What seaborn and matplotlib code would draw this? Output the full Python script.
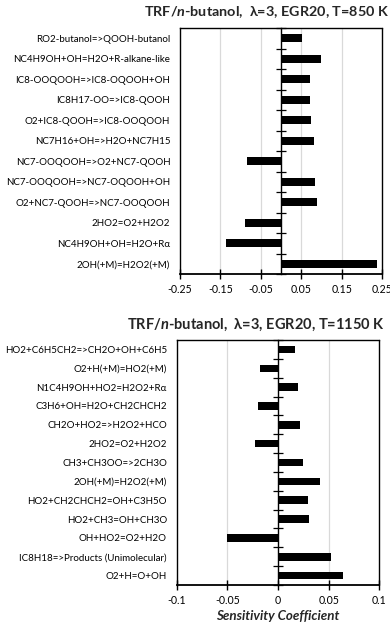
import matplotlib
matplotlib.use("Agg")
import matplotlib.pyplot as plt
import seaborn as sns
import numpy as np
from matplotlib.ticker import FixedLocator

# ---------------- data ----------------
top_labels = [
    "RO2-butanol=>QOOH-butanol",
    "NC4H9OH+OH=H2O+R-alkane-like",
    "IC8-OOQOOH=>IC8-OQOOH+OH",
    "IC8H17-OO=>IC8-QOOH",
    "O2+IC8-QOOH=>IC8-OOQOOH",
    "NC7H16+OH=>H2O+NC7H15",
    "NC7-OOQOOH=>O2+NC7-QOOH",
    "NC7-OOQOOH=>NC7-OQOOH+OH",
    "O2+NC7-QOOH=>NC7-OOQOOH",
    "2HO2=O2+H2O2",
    "NC4H9OH+OH=H2O+R\u03b1",
    "2OH(+M)=H2O2(+M)",
]
top_values = [0.053, 0.098, 0.071, 0.073, 0.074, 0.082, -0.085, 0.084, 0.088, -0.089, -0.136, 0.237]
top_ticks = [-0.25, -0.15, -0.05, 0.05, 0.15, 0.25]
top_ticklabels = ["-0.25", "-0.15", "-0.05", "0.05", "0.15", "0.25"]
top_title = "TRF/$\\mathbfit{n}$-butanol,  \u03bb=3, EGR20, T=850 K"

bot_labels = [
    "HO2+C6H5CH2=>CH2O+OH+C6H5",
    "O2+H(+M)=HO2(+M)",
    "N1C4H9OH+HO2=H2O2+R\u03b1",
    "C3H6+OH=H2O+CH2CHCH2",
    "CH2O+HO2=>H2O2+HCO",
    "2HO2=O2+H2O2",
    "CH3+CH3OO=>2CH3O",
    "2OH(+M)=H2O2(+M)",
    "HO2+CH2CHCH2=OH+C3H5O",
    "HO2+CH3=OH+CH3O",
    "OH+HO2=O2+H2O",
    "IC8H18=>Products (Unimolecular)",
    "O2+H=O+OH",
]
bot_values = [0.017, -0.018, 0.020, -0.020, 0.022, -0.023, 0.025, 0.041, 0.030, 0.031, -0.050, 0.052, 0.064]
bot_ticks = [-0.1, -0.05, 0, 0.05, 0.1]
bot_ticklabels = ["-0.1", "-0.05", "0", "0.05", "0.1"]
bot_title = "TRF/$\\mathbfit{n}$-butanol,  \u03bb=3, EGR20, T=1150 K"
xlabel = "Sensitivity Coefficient"

# ---------------- style ----------------
sns.set_theme(style="white")
plt.rcParams["font.family"] = ["Lato", "DejaVu Sans"]
plt.rcParams["axes.unicode_minus"] = False
plt.rcParams["mathtext.fontset"] = "custom"
plt.rcParams["mathtext.bfit"] = "Lato:italic:bold"
plt.rcParams["mathtext.rm"] = "Lato"
plt.rcParams["mathtext.bf"] = "Lato:bold"

fig = plt.figure(figsize=(3.9, 6.32), dpi=100)
W, H = 390, 632

def add_axes(l, t, r, b):
    return fig.add_axes([l / W, 1 - b / H, (r - l) / W, (b - t) / H])

ax1 = add_axes(180, 28, 382, 274)
ax2 = add_axes(176.7, 340, 379.3, 585)


def draw(ax, labels, values, xlim, ticks, ticklabels, gridx):
    sns.barplot(x=values, y=labels, orient="h", color="black", saturation=1,
                width=0.4, ax=ax, edgecolor="black", linewidth=0)
    ax.set_xlim(*xlim)
    n = len(labels)
    ax.set_ylim(n - 0.5, -0.5)
    ax.set_xticks(ticks)
    ax.set_xticklabels(ticklabels, fontsize=7.6)
    for g in gridx:
        ax.axvline(g, color="#d9d9d9", lw=0.9, zorder=0)
    # zero spine carrying the minor ticks between categories
    ax.spines["right"].set_position(("data", 0))
    ax.spines["right"].set_linewidth(1.0)
    ax.spines["right"].set_zorder(5)
    ax.yaxis.set_minor_locator(FixedLocator(np.arange(-0.5, n, 1.0)))
    ax.tick_params(axis="y", which="major", left=True, right=False, length=0,
                   labelsize=7.0, pad=7, labelcolor="black")
    ax.tick_params(axis="y", which="minor", left=False, right=True,
                   direction="inout", length=7, width=0.9, color="black")
    ax.tick_params(axis="x", which="major", bottom=True, direction="inout",
                   length=7, width=1.0, color="black", pad=4, labelcolor="black")
    # outer frame right edge
    ax.axvline(xlim[1], color="black", lw=1.0, clip_on=False, zorder=5)
    for s in ["left", "top"]:
        ax.spines[s].set_color("black")
        ax.spines[s].set_linewidth(1.0)
    ax.spines["right"].set_color("black")
    ax.spines["bottom"].set_color("black")
    ax.spines["bottom"].set_linewidth(1.3)
    ax.set_xlabel("")
    ax.set_ylabel("")


draw(ax1, top_labels, top_values, (-0.25, 0.25), top_ticks, top_ticklabels,
     [-0.15, -0.05, 0.05, 0.15])
draw(ax2, bot_labels, bot_values, (-0.1, 0.1), bot_ticks, bot_ticklabels, [-0.05, 0.05])

fig.text(389 / W, 1 - 12 / H, top_title, fontsize=10.4, fontweight="bold",
         ha="right", va="center")
fig.text(127 / W, 1 - 325 / H, bot_title, fontsize=10.5, fontweight="bold",
         ha="left", va="center")
fig.text(278 / W, 1 - 616 / H, xlabel, fontsize=9.6, fontweight="bold",
         fontstyle="italic", ha="center", va="center")

fig.savefig("out.png", dpi=100)
